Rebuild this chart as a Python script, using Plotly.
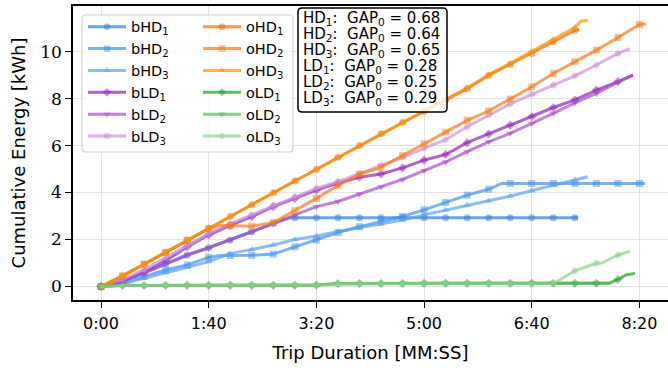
import plotly.graph_objects as go

# ---------------- data (seconds, kWh) ----------------
x_tick_vals = [0, 100, 200, 300, 400, 500]
x_tick_text = ["0:00", "1:40", "3:20", "5:00", "6:40", "8:20"]
y_tick_vals = [0, 2, 4, 6, 8, 10]

t_bHD1 = [0, 20, 40, 60, 80, 100, 120, 140, 160, 176, 180, 200, 220, 240, 260, 280, 300, 320, 340, 360, 380, 400, 420, 440, 443]
e_bHD1 = [0, 0.22, 0.58, 0.95, 1.33, 1.65, 1.98, 2.33, 2.68, 2.93, 2.93, 2.93, 2.93, 2.93, 2.93, 2.93, 2.93, 2.93, 2.93, 2.93, 2.93, 2.93, 2.93, 2.93, 2.93]

t_bHD2 = [0, 20, 40, 60, 80, 100, 110, 120, 140, 160, 180, 200, 220, 240, 260, 280, 300, 320, 340, 360, 372, 380, 400, 420, 440, 460, 480, 500, 505]
e_bHD2 = [0, 0.15, 0.42, 0.7, 0.92, 1.24, 1.32, 1.32, 1.33, 1.38, 1.69, 1.98, 2.3, 2.55, 2.78, 2.98, 3.26, 3.58, 3.89, 4.14, 4.39, 4.39, 4.39, 4.39, 4.39, 4.39, 4.39, 4.39, 4.39]

t_bHD3 = [0, 20, 40, 60, 80, 100, 120, 140, 160, 180, 200, 220, 240, 260, 280, 300, 320, 340, 360, 380, 400, 420, 440, 452]
e_bHD3 = [0, 0.12, 0.35, 0.6, 0.82, 1.06, 1.4, 1.58, 1.77, 2.0, 2.15, 2.34, 2.5, 2.66, 2.83, 3.05, 3.26, 3.47, 3.65, 3.85, 4.08, 4.32, 4.53, 4.67]

t_bLD1 = [0, 20, 40, 60, 80, 100, 120, 140, 160, 180, 200, 220, 240, 260, 280, 300, 320, 340, 360, 380, 400, 420, 440, 460, 480, 494]
e_bLD1 = [0, 0.25, 0.62, 1.1, 1.68, 2.19, 2.6, 2.97, 3.4, 3.75, 4.1, 4.4, 4.65, 4.79, 5.05, 5.38, 5.62, 6.12, 6.49, 6.87, 7.23, 7.62, 7.94, 8.36, 8.72, 9.0]

t_bLD2 = [0, 20, 40, 60, 80, 100, 120, 140, 160, 180, 200, 220, 240, 260, 280, 300, 320, 340, 360, 380, 400, 420, 440, 460, 480, 494]
e_bLD2 = [0, 0.22, 0.58, 0.98, 1.35, 1.65, 1.98, 2.33, 2.69, 3.04, 3.4, 3.62, 3.94, 4.25, 4.56, 4.93, 5.3, 5.74, 6.16, 6.52, 6.94, 7.37, 7.82, 8.22, 8.7, 9.0]

t_bLD3 = [0, 20, 40, 60, 80, 100, 120, 140, 160, 180, 200, 220, 240, 260, 280, 300, 320, 340, 360, 380, 400, 420, 440, 460, 480, 491]
e_bLD3 = [0, 0.3, 0.72, 1.22, 1.75, 2.25, 2.68, 3.05, 3.45, 3.82, 4.18, 4.46, 4.8, 5.17, 5.5, 5.88, 6.25, 6.8, 7.3, 7.77, 8.18, 8.57, 8.97, 9.43, 9.92, 10.12]

t_oHD1 = [0, 20, 40, 60, 80, 100, 120, 140, 160, 180, 200, 220, 240, 260, 280, 300, 320, 340, 360, 380, 400, 420, 440, 444]
e_oHD1 = [0, 0.45, 0.95, 1.45, 1.97, 2.48, 2.98, 3.48, 3.99, 4.49, 4.99, 5.5, 6.0, 6.5, 6.98, 7.45, 7.93, 8.42, 8.98, 9.45, 9.92, 10.42, 10.9, 10.95]

t_oHD2 = [0, 20, 40, 60, 80, 100, 110, 120, 140, 160, 180, 200, 220, 240, 260, 280, 300, 320, 340, 360, 380, 400, 420, 440, 460, 480, 500, 506]
e_oHD2 = [0, 0.45, 0.95, 1.45, 1.97, 2.46, 2.6, 2.58, 2.57, 2.72, 3.23, 3.75, 4.3, 4.78, 5.07, 5.57, 6.07, 6.57, 7.07, 7.47, 7.98, 8.5, 9.07, 9.57, 10.06, 10.6, 11.15, 11.17]

t_oHD3 = [0, 20, 40, 60, 80, 100, 120, 140, 160, 180, 200, 220, 240, 260, 280, 300, 320, 340, 360, 380, 400, 420, 440, 446, 452]
e_oHD3 = [0, 0.45, 0.95, 1.45, 1.97, 2.48, 2.98, 3.48, 3.99, 4.49, 4.99, 5.5, 6.0, 6.5, 7.0, 7.47, 7.97, 8.45, 9.02, 9.5, 10.0, 10.52, 11.03, 11.3, 11.32]

t_oLD1 = [0, 20, 40, 60, 80, 100, 120, 140, 160, 180, 200, 220, 240, 260, 280, 300, 320, 340, 360, 380, 400, 420, 440, 460, 472, 480, 488, 496]
e_oLD1 = [0, 0.05, 0.04, 0.05, 0.05, 0.05, 0.05, 0.05, 0.05, 0.05, 0.06, 0.13, 0.13, 0.13, 0.13, 0.14, 0.14, 0.14, 0.14, 0.14, 0.14, 0.14, 0.14, 0.14, 0.14, 0.3, 0.5, 0.56]

t_oLD2 = [0, 20, 40, 60, 80, 100, 120, 140, 160, 180, 200, 220, 240, 260, 280, 300, 320, 340, 360, 380, 400, 420, 440, 460, 472]
e_oLD2 = [0, 0.04, 0.04, 0.04, 0.05, 0.05, 0.05, 0.05, 0.05, 0.05, 0.06, 0.12, 0.13, 0.13, 0.13, 0.13, 0.14, 0.14, 0.14, 0.14, 0.14, 0.14, 0.14, 0.14, 0.14]

t_oLD3 = [0, 20, 40, 60, 80, 100, 120, 140, 160, 180, 200, 220, 240, 260, 280, 300, 320, 340, 360, 380, 400, 420, 440, 460, 465, 480, 491]
e_oLD3 = [0, 0.04, 0.04, 0.04, 0.05, 0.05, 0.05, 0.05, 0.05, 0.05, 0.06, 0.1, 0.12, 0.12, 0.12, 0.12, 0.12, 0.12, 0.12, 0.12, 0.12, 0.12, 0.67, 0.99, 1.0, 1.34, 1.5]

gap_labels = ["HD<sub>1</sub>", "HD<sub>2</sub>", "HD<sub>3</sub>", "LD<sub>1</sub>", "LD<sub>2</sub>", "LD<sub>3</sub>"]
gap_values = [0.68, 0.64, 0.65, 0.28, 0.25, 0.29]

# ---------------- styles ----------------
series = [
    ("bHD<sub>1</sub>", t_bHD1, e_bHD1, "rgba(45,126,222,0.7)", "circle", "legend"),
    ("bHD<sub>2</sub>", t_bHD2, e_bHD2, "rgba(62,145,233,0.7)", "square", "legend"),
    ("bHD<sub>3</sub>", t_bHD3, e_bHD3, "rgba(91,162,241,0.7)", "triangle-up", "legend"),
    ("bLD<sub>1</sub>", t_bLD1, e_bLD1, "rgba(145,31,184,0.7)", "diamond", "legend"),
    ("bLD<sub>2</sub>", t_bLD2, e_bLD2, "rgba(169,76,202,0.7)", "triangle-down", "legend"),
    ("bLD<sub>3</sub>", t_bLD3, e_bLD3, "rgba(205,145,222,0.7)", "hexagon", "legend"),
    ("oHD<sub>1</sub>", t_oHD1, e_oHD1, "rgba(242,105,5,0.7)", "circle", "legend2"),
    ("oHD<sub>2</sub>", t_oHD2, e_oHD2, "rgba(248,122,26,0.7)", "square", "legend2"),
    ("oHD<sub>3</sub>", t_oHD3, e_oHD3, "rgba(251,148,12,0.7)", "triangle-up", "legend2"),
    ("oLD<sub>1</sub>", t_oLD1, e_oLD1, "rgba(34,155,34,0.7)", "diamond", "legend2"),
    ("oLD<sub>2</sub>", t_oLD2, e_oLD2, "rgba(84,184,84,0.7)", "triangle-down", "legend2"),
    ("oLD<sub>3</sub>", t_oLD3, e_oLD3, "rgba(141,208,141,0.7)", "hexagon", "legend2"),
]

W, H = 668, 372
ML, MR, MT, MB = 73, 0, 6, 72
PW, PH = W - ML - MR, H - MT - MB


def px(xp):
    return (xp - ML) / PW


def py(yp):
    return 1 - (yp - MT) / PH


def rr_path(x0, y0, x1, y1, r):
    def p(x, y):
        return f"{px(x):.5f},{py(y):.5f}"
    return (f"M{p(x0 + r, y0)} L{p(x1 - r, y0)} Q{p(x1, y0)} {p(x1, y0 + r)} "
            f"L{p(x1, y1 - r)} Q{p(x1, y1)} {p(x1 - r, y1)} L{p(x0 + r, y1)} "
            f"Q{p(x0, y1)} {p(x0, y1 - r)} L{p(x0, y0 + r)} Q{p(x0, y0)} {p(x0 + r, y0)} Z")


fig = go.Figure()
for name, t, e, col, sym, leg in series:
    sizes = [7 if (tt % 20 == 0) else 0 for tt in t]
    fig.add_trace(go.Scatter(
        x=t, y=e, mode="lines+markers", name=name, legend=leg,
        line=dict(color=col, width=3),
        marker=dict(symbol=sym, size=sizes, color=col, line=dict(width=0)),
    ))

sans = "DejaVu Sans"
fig.update_layout(
    width=W, height=H,
    margin=dict(l=ML, r=MR, t=MT, b=MB, pad=0),
    paper_bgcolor="white", plot_bgcolor="white",
    showlegend=True,
    legend=dict(x=px(83), y=py(10.8), xanchor="left", yanchor="top",
                bgcolor="rgba(0,0,0,0)", borderwidth=0, itemwidth=38,
                font=dict(family=sans, size=14.5, color="black"), tracegroupgap=0),
    legend2=dict(x=px(198), y=py(10.8), xanchor="left", yanchor="top",
                 bgcolor="rgba(0,0,0,0)", borderwidth=0, itemwidth=38,
                 font=dict(family=sans, size=14.5, color="black"), tracegroupgap=0),
    xaxis=dict(range=[-26, 526.5], tickvals=x_tick_vals, ticktext=x_tick_text,
               ticks="outside", ticklen=6, tickwidth=1.2, tickcolor="black",
               showline=True, linecolor="black", linewidth=1.5, mirror=True,
               showgrid=True, gridcolor="#e3e3e3", gridwidth=1, zeroline=False,
               automargin=False, ticklabelstandoff=2,
               tickfont=dict(family=sans, size=16, color="black"),
               title=dict(text="Trip Duration [MM:SS]", font=dict(family=sans, size=18, color="black"), standoff=14)),
    yaxis=dict(range=[-0.574, 11.94], tickvals=y_tick_vals,
               ticks="outside", ticklen=6, tickwidth=1.2, tickcolor="black",
               showline=True, linecolor="black", linewidth=1.5, mirror=False,
               showgrid=True, gridcolor="#e3e3e3", gridwidth=1, zeroline=False,
               automargin=False,
               tickfont=dict(family="DejaVu Serif", size=17, color="black"),
               title=dict(text="Cumulative Energy [kWh]", font=dict(family=sans, size=18, color="black"), standoff=10)),
)

# legend frame (shared by both legend columns) and GAP box
fig.add_shape(type="path", xref="paper", yref="paper", path=rr_path(82, 15, 293, 152, 4),
              line=dict(color="rgb(210,210,210)", width=1.2), fillcolor="rgba(255,255,255,0.8)", layer="above")
fig.add_shape(type="path", xref="paper", yref="paper", path=rr_path(298, 8, 447, 112, 4),
              line=dict(color="black", width=1.5), fillcolor="rgba(255,255,255,0.8)", layer="above")

for i, (lab, val) in enumerate(zip(gap_labels, gap_values)):
    fig.add_annotation(xref="paper", yref="paper", x=px(301), y=py(18.5 + 16 * i),
                       xanchor="left", yanchor="middle", showarrow=False,
                       text=f"{lab}:\u00a0 GAP<sub>0</sub> = {val:.2f}",
                       font=dict(family=sans, size=15, color="black"))

fig.write_html("out.html", config={"displayModeBar": False},
               post_script="document.body.style.margin='0';document.body.style.padding='0';")
